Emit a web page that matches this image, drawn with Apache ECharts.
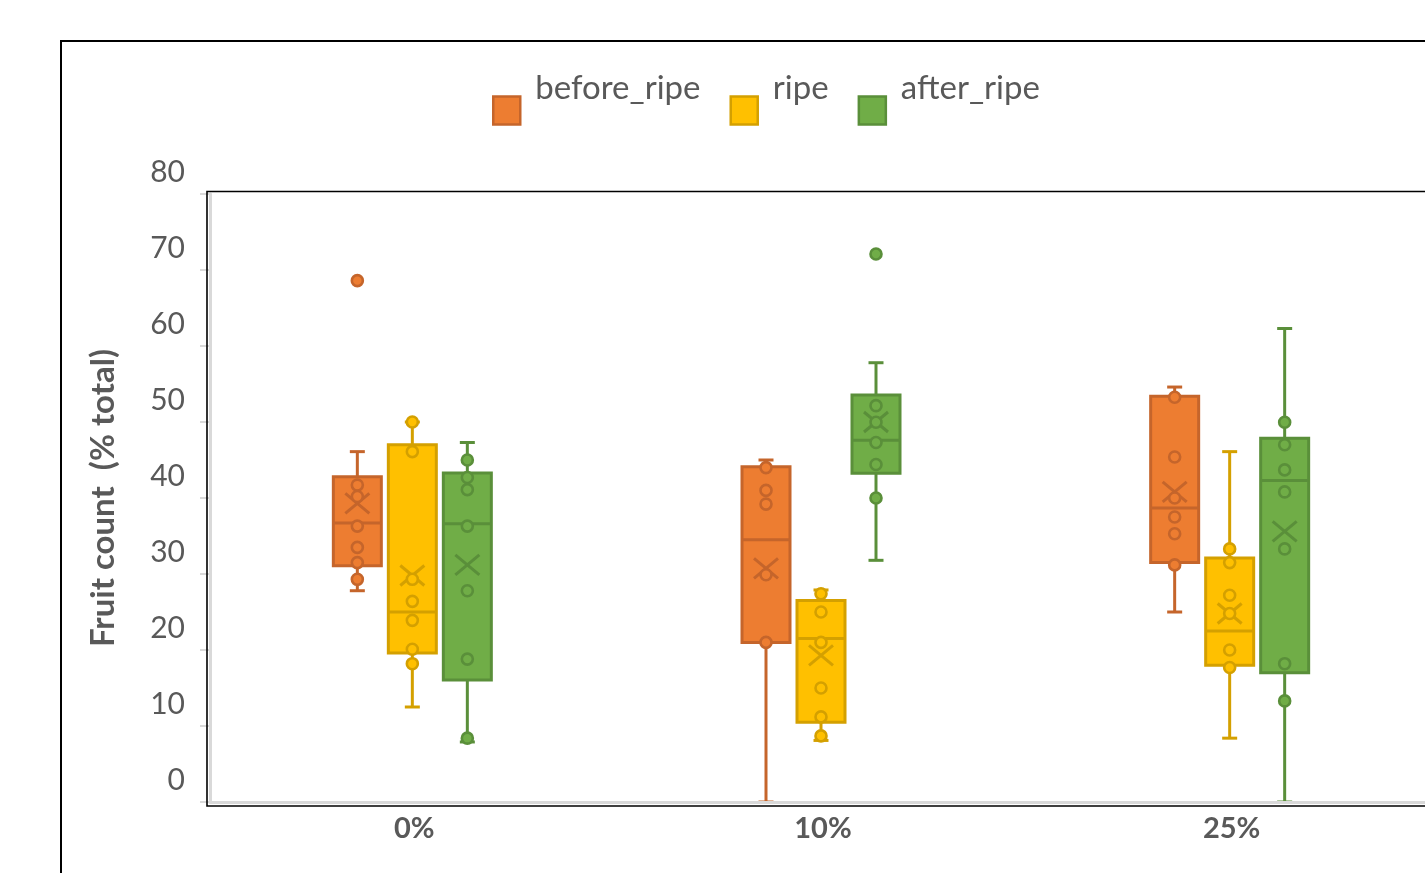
<!DOCTYPE html>
<html><head><meta charset="utf-8">
<script src="https://cdn.jsdelivr.net/npm/echarts@6/dist/echarts.min.js"></script>
<style>html,body{margin:0;padding:0;background:#fff}#c{width:1425px;height:873px}</style>
</head><body><div id="c"></div>
<script>
// ---------------- data ----------------
const categories = ['0%', '10%', '25%'];
const seriesNames = ['before_ripe', 'ripe', 'after_ripe'];
const yTickValues = [0, 10, 20, 30, 40, 50, 60, 70, 80];

// [min, Q1, median, Q3, max] for each category
const beforeRipeBox = [[27.8, 31.1, 36.7, 42.8, 46.1], [0, 21.0, 34.5, 44.1, 45.0], [25.0, 31.5, 38.7, 53.4, 54.6]];
const ripeBox       = [[12.5, 19.6, 25.0, 47.0, 50.0], [8.1, 10.5, 21.5, 26.5, 27.9], [8.4, 18.0, 22.5, 32.1, 46.1]];
const afterRipeBox  = [[7.9, 16.05, 36.6, 43.3, 47.3], [31.8, 43.25, 47.6, 53.55, 57.8], [0, 17.0, 42.3, 47.85, 62.3]];

// mean (X marker) for each category
const beforeRipeMean = [39.3, 30.75, 40.8];
const ripeMean       = [29.8, 19.3, 24.8];
const afterRipeMean  = [31.2, 50.0, 35.6];

// individual points for each category
const beforeRipePoints = [[68.6, 41.7, 40.2, 36.3, 33.5, 31.5, 29.3], [44.0, 41.0, 39.2, 29.9, 21.0], [53.25, 45.4, 40.0, 37.5, 35.3, 31.2]];
const ripePoints       = [[50.0, 46.1, 29.3, 26.4, 23.9, 20.1, 18.2], [27.4, 25.0, 21.0, 15.0, 11.2, 8.7], [33.3, 31.5, 27.2, 24.8, 20.0, 17.7]];
const afterRipePoints  = [[45.0, 42.7, 41.1, 36.3, 27.8, 18.8, 8.4], [72.1, 52.15, 49.96, 47.3, 44.4, 40.0], [49.96, 47.0, 43.7, 40.8, 33.3, 18.2, 13.3]];

// ---------------- styling ----------------
const fills   = ['#ED7D31', '#FFC000', '#70AD47'];
const strokes = ['#C5652B', '#D4A000', '#5A8F3A'];
const offsets = [-57, -2, 53];
const textColor = '#595959';
const FONT = 'Lato';

const boxes = [beforeRipeBox, ripeBox, afterRipeBox];
const means = [beforeRipeMean, ripeMean, afterRipeMean];
const points = [beforeRipePoints, ripePoints, afterRipePoints];

function makeRender(off, stroke, fill) {
  return function (params, api) {
    const ci = api.value(0);
    const P = v => api.coord([ci, v]);
    const cx = P(api.value(1))[0] + off;
    const yMin = P(api.value(1))[1], yQ1 = P(api.value(2))[1], yMed = P(api.value(3))[1],
          yQ3 = P(api.value(4))[1], yMax = P(api.value(5))[1], yMean = P(api.value(6))[1];
    const hw = 24, cap = 7.5, mx = 12, my = 10;
    const ls = { stroke: stroke, lineWidth: 3 };
    return {
      type: 'group',
      children: [
        { type: 'line', shape: { x1: cx, y1: yQ3, x2: cx, y2: yMax }, style: ls },
        { type: 'line', shape: { x1: cx, y1: yQ1, x2: cx, y2: yMin }, style: ls },
        { type: 'line', shape: { x1: cx - cap, y1: yMax, x2: cx + cap, y2: yMax }, style: ls },
        { type: 'line', shape: { x1: cx - cap, y1: yMin, x2: cx + cap, y2: yMin }, style: ls },
        { type: 'rect', shape: { x: cx - hw, y: yQ3, width: hw * 2, height: yQ1 - yQ3 }, style: { fill: fill, stroke: stroke, lineWidth: 3 } },
        { type: 'line', shape: { x1: cx - hw, y1: yMed, x2: cx + hw, y2: yMed }, style: ls },
        { type: 'line', shape: { x1: cx - mx, y1: yMean - my, x2: cx + mx, y2: yMean + my }, style: ls },
        { type: 'line', shape: { x1: cx - mx, y1: yMean + my, x2: cx + mx, y2: yMean - my }, style: ls }
      ]
    };
  };
}

const series = [];
seriesNames.forEach((name, si) => {
  series.push({
    name: name,
    type: 'custom',
    renderItem: makeRender(offsets[si], strokes[si], fills[si]),
    itemStyle: { color: fills[si], borderColor: strokes[si] },
    encode: { x: 0, y: [1, 2, 3, 4, 5] },
    data: boxes[si].map((b, ci) => [ci, b[0], b[1], b[2], b[3], b[4], means[si][ci]]),
    z: 2
  });
});
seriesNames.forEach((name, si) => {
  const d = [];
  points[si].forEach((arr, ci) => arr.forEach(v => d.push([ci, v])));
  series.push({
    name: name,
    type: 'scatter',
    symbol: 'circle',
    symbolSize: 11,
    symbolOffset: [offsets[si], 0],
    itemStyle: { color: fills[si], borderColor: strokes[si], borderWidth: 2.6, opacity: 1 },
    data: d,
    z: 3
  });
});

const chart = echarts.init(document.getElementById('c'));
chart.setOption({
  animation: false,
  backgroundColor: '#fff',
  textStyle: { fontFamily: FONT },
  grid: { left: 210, top: 194, bottom: 71, right: -11, containLabel: false, outerBoundsMode: 'none' },
  legend: {
    left: 487, top: 67,
    itemWidth: 27, itemHeight: 28, itemGap: 29,
    icon: 'rect',
    selectedMode: false,
    formatter: '{a|{name}}',
    textStyle: {
      fontFamily: FONT, fontSize: 33, color: textColor,
      rich: { a: { fontFamily: FONT, fontSize: 33, color: textColor, padding: [0, 0, 44, 10] } }
    },
    data: seriesNames.map((n, si) => ({ name: n, itemStyle: { color: fills[si], borderColor: strokes[si], borderWidth: 2.5 } }))
  },
  xAxis: {
    type: 'category',
    data: categories,
    z: 10,
    axisLine: { show: true, lineStyle: { color: '#D9D9D9', width: 3 } },
    axisTick: { show: false },
    axisLabel: { color: textColor, fontWeight: 'bold', fontSize: 29, fontFamily: FONT, margin: 12 },
    splitLine: { show: false }
  },
  yAxis: {
    type: 'value',
    min: 0, max: 80, interval: 10,
    z: 10,
    name: 'Fruit count  (% total)',
    nameLocation: 'middle',
    nameRotate: 90,
    nameGap: 90,
    nameTextStyle: { color: textColor, fontWeight: 'bold', fontSize: 33, fontFamily: FONT },
    axisLine: { show: true, lineStyle: { color: '#D9D9D9', width: 3 } },
    axisTick: { show: true, inside: false, length: 10, lineStyle: { color: '#D9D9D9', width: 2 } },
    axisLabel: {
      color: textColor, fontSize: 30, fontFamily: FONT, margin: 25,
      formatter: v => (yTickValues.indexOf(v) >= 0 ? '{a|' + v + '}' : ''),
      rich: { a: { fontFamily: FONT, fontSize: 30, color: textColor, padding: [0, 0, 44, 0] } }
    },
    splitLine: { show: false }
  },
  graphic: [
    { type: 'polyline', silent: true, z: 100,
      shape: { points: [[61, 873], [61, 41], [1425, 41]] },
      style: { stroke: '#000', lineWidth: 2, fill: null } },
    { type: 'polyline', silent: true, z: 100,
      shape: { points: [[1425, 191.5], [207, 191.5], [207, 806], [1425, 806]] },
      style: { stroke: '#000', lineWidth: 1.6, fill: null } }
  ],
  series: series
});
</script>
</body></html>
